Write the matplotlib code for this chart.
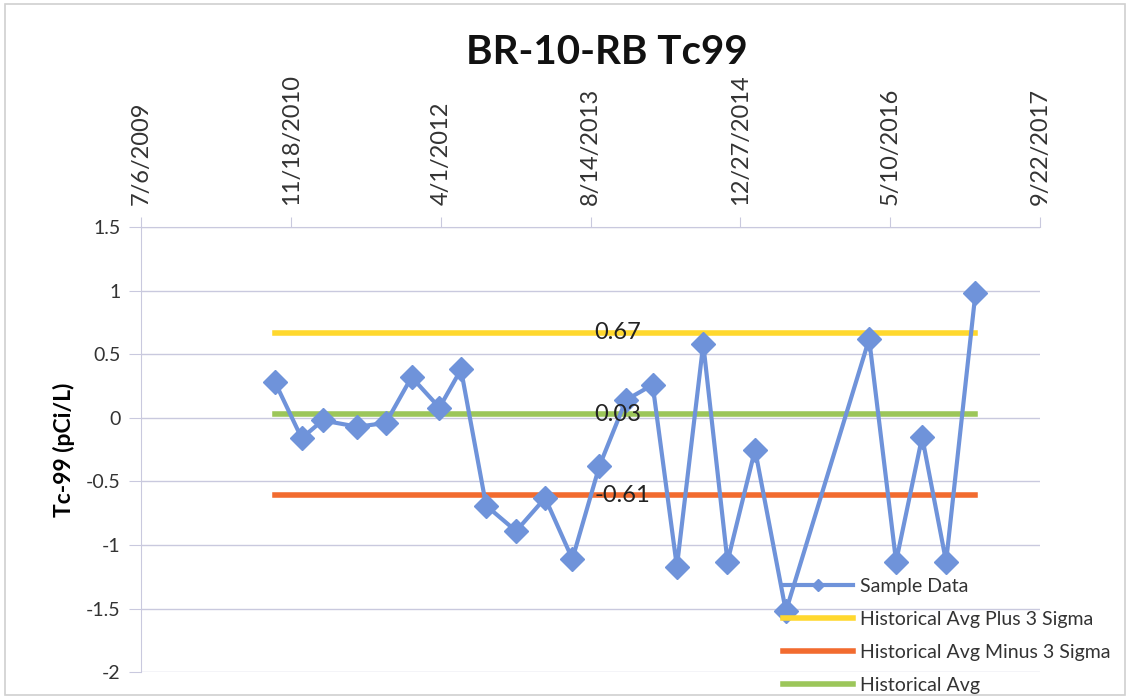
import matplotlib
matplotlib.use("Agg")
import matplotlib.pyplot as plt
import matplotlib.patches as mpatches
import pandas as pd

# sample dates
sample_dates = [
    "2010-09-25", "2010-12-23", "2011-03-03", "2011-06-27", "2011-09-30",
    "2011-12-25", "2012-03-27", "2012-06-07", "2012-08-30", "2012-12-08",
    "2013-03-15", "2013-06-14", "2013-09-12", "2013-12-10", "2014-03-09",
    "2014-05-29", "2014-08-25", "2014-11-14", "2015-02-14", "2015-05-28",
    "2016-03-01", "2016-05-30", "2016-08-25", "2016-11-13", "2017-02-19",
]
sample_vals = [
    0.28, -0.16, -0.02, -0.07, -0.04,
    0.32, 0.08, 0.38, -0.69, -0.89,
    -0.63, -1.11, -0.38, 0.14, 0.26,
    -1.17, 0.58, -1.13, -0.25, -1.52,
    0.62, -1.13, -0.15, -1.13, 0.98,
]
avg_plus_3sigma = 0.67
avg_minus_3sigma = -0.61
hist_avg = 0.03

tick_dates = ["2009-07-06", "2010-11-18", "2012-04-01", "2013-08-14",
              "2014-12-27", "2016-05-10", "2017-09-22"]
tick_labels = ["7/6/2009", "11/18/2010", "4/1/2012", "8/14/2013",
               "12/27/2014", "5/10/2016", "9/22/2017"]

BLUE = "#6F93DA"
YELLOW = "#FFD82E"
ORANGE = "#F26B2F"
GREEN = "#9CC65A"
GRID = "#C9C9DE"

plt.rcParams["font.family"] = ["Lato", "DejaVu Sans"]

x = pd.to_datetime(sample_dates)
xt = pd.to_datetime(tick_dates)

fig = plt.figure(figsize=(11.3, 6.98), dpi=100)
ax = fig.add_axes([0.1252, 0.0368, 0.7950, 0.6380])

ax.plot(x, sample_vals, "-D", color=BLUE, lw=3, ms=12, zorder=4, label="Sample Data")
ends = [x[0], x[-1]]
ax.plot(ends, [avg_plus_3sigma] * 2, color=YELLOW, lw=4, zorder=3,
        label="Historical Avg Plus 3 Sigma")
ax.plot(ends, [avg_minus_3sigma] * 2, color=ORANGE, lw=4, zorder=3,
        label="Historical Avg Minus 3 Sigma")
ax.plot(ends, [hist_avg] * 2, color=GREEN, lw=4, zorder=3, label="Historical Avg")

# value labels near the middle of each limit line
mid = x[12]
for v in (avg_plus_3sigma, hist_avg, avg_minus_3sigma):
    ax.annotate(f"{v:.2f}", xy=(mid, v), xytext=(-5, 0), textcoords="offset pixels",
                ha="left", va="center", fontsize=17, color="#222222", zorder=5)

ax.set_xlim(xt[0], xt[-1])
ax.set_ylim(-2, 1.5)
ax.set_yticks([-2, -1.5, -1, -0.5, 0, 0.5, 1, 1.5])
ax.set_yticklabels(["-2", "-1.5", "-1", "-0.5", "0", "0.5", "1", "1.5"])
ax.set_xticks(xt)
ax.set_xticklabels(tick_labels, rotation=90)
ax.xaxis.tick_top()
ax.tick_params(axis="x", length=7, color=GRID, labelsize=17, labelcolor="#333333", pad=9)
ax.tick_params(axis="y", length=9, color=GRID, labelsize=14, labelcolor="#333333", pad=6)
ax.grid(axis="y", color=GRID, lw=1)
for s in ("right", "bottom"):
    ax.spines[s].set_visible(False)
for s in ("left", "top"):
    ax.spines[s].set_color(GRID)

ax.set_ylabel("Tc-99 (pCi/L)", fontsize=16.5, fontweight="bold", labelpad=8)
fig.text(0.537, 0.925, "BR-10-RB Tc99", ha="center", va="center",
         fontsize=29, fontweight="bold", color="#111111")

leg = ax.legend(loc="lower left", bbox_to_anchor=(0.693, 0.006), frameon=False,
                fontsize=14, handlelength=3.6, handletextpad=0.36, labelspacing=0.82,
                borderaxespad=0, borderpad=0, bbox_transform=fig.transFigure)
for t in leg.get_texts():
    t.set_color("#333333")
leg.legend_handles[0].set_markersize(6)

fig.patches.append(mpatches.Rectangle((0.004, 0.004), 0.992, 0.99, transform=fig.transFigure,
                                      fill=False, ec="#D0D0D0", lw=1.2))

fig.savefig("out.png", dpi=100)
